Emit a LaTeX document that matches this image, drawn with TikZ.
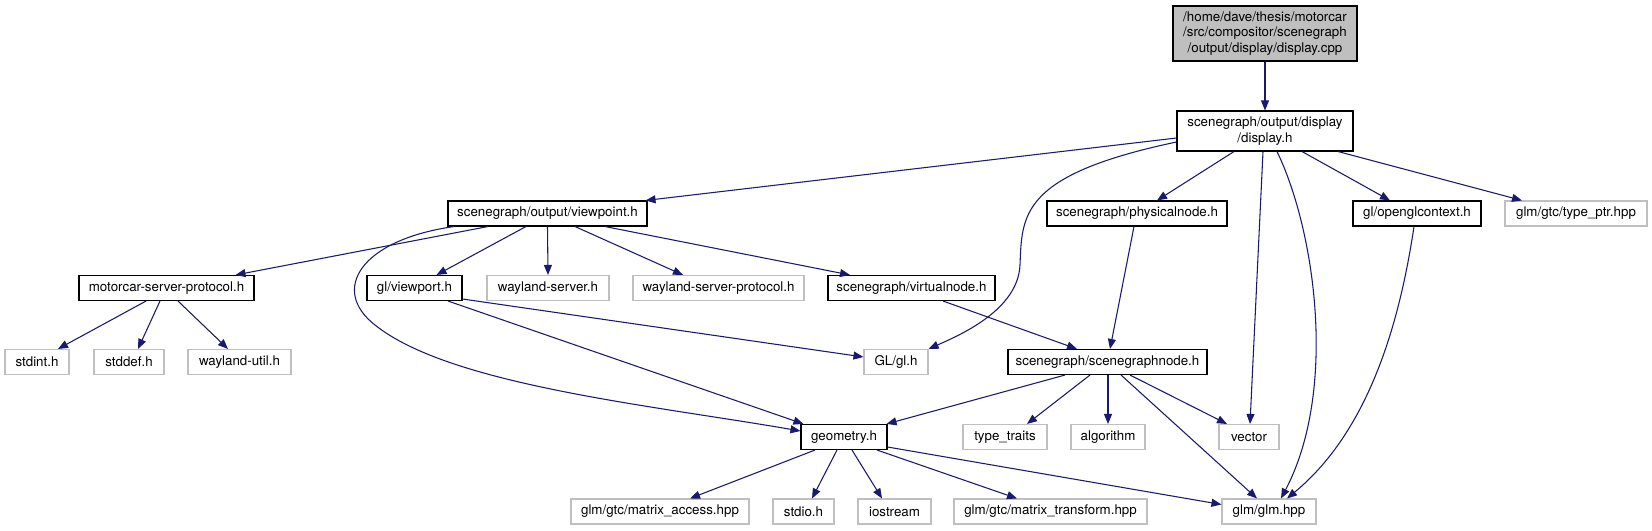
\documentclass[tikz,border=0pt]{standalone}
\usepackage{fontspec}
\setmainfont{TeX Gyre Heros}
\usetikzlibrary{arrows.meta,calc}
\definecolor{edgeblue}{HTML}{191970}
\definecolor{lightgrey}{HTML}{BFBFBF}
\begin{document}
\begin{tikzpicture}[x=0.75pt,y=-0.75pt,
  box/.style={draw=black,line width=0.8pt,fill=white,minimum height=18.75pt,inner sep=0pt,
    font=\fontsize{10}{11.5}\selectfont,anchor=center,align=center},
  ext/.style={box,draw=lightgrey},
  dep/.style={draw=edgeblue,line width=0.8pt,-{Triangle[length=7.5pt,width=6pt]}}]
\useasboundingbox (0,0) rectangle (1652,531);

% rank A/B
\node[box,fill=lightgrey,minimum width=138pt,minimum height=41.25pt] (cpp) at (1265,33.5)
  {/home/dave/thesis/motorcar\\/src/compositor/scenegraph\\/output/display/display.cpp};
\node[box,minimum width=132pt,minimum height=30pt] (disp) at (1265,131)
  {scenegraph/output/display\\/display.h};

% rank C
\node[box,minimum width=149.25pt] (viewpoint) at (547.5,213.5) {scenegraph/output/viewpoint.h};
\node[box,minimum width=135pt] (physnode) at (1137,213.5) {scenegraph/physicalnode.h};
\node[box,minimum width=96pt] (oglctx) at (1417,213.5) {gl/openglcontext.h};
\node[ext,minimum width=106.5pt] (typeptr) at (1576,213.5) {glm/gtc/type\_ptr.hpp};

% rank D
\node[box,minimum width=131.25pt] (msp) at (166.5,288) {motorcar-server-protocol.h};
\node[box,minimum width=71.25pt] (viewport) at (414.5,288) {gl/viewport.h};
\node[ext,minimum width=91.5pt] (wserver) at (548,288) {wayland-server.h};
\node[ext,minimum width=128.25pt] (wsproto) at (718.5,288) {wayland-server-protocol.h};
\node[box,minimum width=125.25pt] (virtnode) at (911.5,288) {scenegraph/virtualnode.h};

% rank E
\node[ext,minimum width=48pt] (stdint) at (37,362) {stdint.h};
\node[ext,minimum width=52.5pt] (stddef) at (129,362) {stddef.h};
\node[ext,minimum width=77.25pt] (wutil) at (239.5,362) {wayland-util.h};
\node[ext,minimum width=48pt] (glh) at (896,362) {GL/gl.h};
\node[box,minimum width=149.25pt] (sgnode) at (1107.5,362) {scenegraph/scenegraphnode.h};

% rank F
\node[box,minimum width=64.5pt] (geometry) at (844,437) {geometry.h};
\node[ext,minimum width=63pt] (typetraits) at (1005,437) {type\_traits};
\node[ext,minimum width=55.5pt] (algorithm) at (1108,437) {algorithm};
\node[ext,minimum width=45pt] (vector) at (1249,437) {vector};

% rank G
\node[ext,minimum width=133.5pt] (mataccess) at (660,511.5) {glm/gtc/matrix\_access.hpp};
\node[ext,minimum width=45.75pt] (stdio) at (803.5,511.5) {stdio.h};
\node[ext,minimum width=54.75pt] (iostream) at (894.5,511.5) {iostream};
\node[ext,minimum width=144.75pt] (mattransform) at (1050.5,511.5) {glm/gtc/matrix\_transform.hpp};
\node[ext,minimum width=70.5pt] (glm) at (1269,511.5) {glm/glm.hpp};

% edges from display.cpp / display.h
\draw[dep] (cpp.south) -- (disp.north);
\draw[dep] ($(disp.west)+(0,7)$) -- ($(viewpoint.north east)+(-2,0)$);
\draw[dep] ($(disp.west)+(0,11)$) .. controls (1020,175) and (1022,215) .. (1020,265)
  .. controls (1018,310) and (960,335) .. ($(glh.north east)+(0,0)$);
\draw[dep] ($(disp.south)+(-31,0)$) -- ($(physnode.north)+(20,0)$);
\draw[dep] ($(disp.south)+(-2,0)$) -- ($(vector.north)+(1,0)$);
\draw[dep] ($(disp.south)+(12,0)$) .. controls (1315,230) and (1338,390) .. ($(glm.north)+(12,0)$);
\draw[dep] ($(disp.south)+(37,0)$) -- ($(oglctx.north)+(-27,0)$);
\draw[dep] ($(disp.south)+(73,0)$) -- ($(typeptr.north)+(-54,0)$);

% edges from viewpoint.h
\draw[dep] ($(viewpoint.south)+(-59.5,0)$) -- ($(msp.north east)+(-19,0)$);
\draw[dep] ($(viewpoint.south)+(-93.5,0)$) .. controls (360,240) and (330,290) .. (375,325)
  .. controls (450,385) and (650,405) .. ($(geometry.west)+(0,-6)$);
\draw[dep] ($(viewpoint.south)+(-21.5,0)$) -- ($(viewport.north)+(22,0)$);
\draw[dep] (viewpoint.south) -- (wserver.north);
\draw[dep] ($(viewpoint.south)+(27.5,0)$) -- ($(wsproto.north)+(-35.5,0)$);
\draw[dep] ($(viewpoint.south)+(57.5,0)$) -- ($(virtnode.north)+(-61.5,0)$);

% edges from motorcar-server-protocol.h
\draw[dep] ($(msp.south)+(-20.5,0)$) -- ($(stdint.north)+(21,0)$);
\draw[dep] ($(msp.south)+(-6.5,0)$) -- ($(stddef.north)+(9,0)$);
\draw[dep] ($(msp.south)+(11.5,0)$) -- ($(wutil.north)+(-11.5,0)$);

% edges from gl/viewport.h
\draw[dep] ($(viewport.east)+(0,11)$) -- ($(glh.west)+(0,-5)$);
\draw[dep] ($(viewport.south)+(33.5,0)$) -- ($(geometry.north west)+(3,0)$);

% edges into scenegraphnode.h
\draw[dep] ($(virtnode.south)+(31.5,0)$) -- ($(sgnode.north)+(-30.5,0)$);
\draw[dep] ($(physnode.south)+(-3,0)$) -- ($(sgnode.north)+(2.5,0)$);

% edges from scenegraphnode.h
\draw[dep] ($(sgnode.south)+(-42.5,0)$) -- ($(geometry.north east)+(-1,0)$);
\draw[dep] ($(sgnode.south)+(-17.5,0)$) -- ($(typetraits.north)+(22,0)$);
\draw[dep] ($(sgnode.south)+(0.5,0)$) -- (algorithm.north);
\draw[dep] ($(sgnode.south)+(22.5,0)$) -- ($(vector.north)+(-22,0)$);
\draw[dep] ($(sgnode.south)+(13.5,0)$) -- ($(glm.north)+(-12,0)$);

% edge from gl/openglcontext.h
\draw[dep] ($(oglctx.south)+(-3,0)$) .. controls (1400,320) and (1370,430) .. ($(glm.north)+(18,0)$);

% edges from geometry.h
\draw[dep] ($(geometry.south)+(-29,0)$) -- ($(mataccess.north)+(30,0)$);
\draw[dep] ($(geometry.south)+(-7,0)$) -- ($(stdio.north)+(8.5,0)$);
\draw[dep] ($(geometry.south)+(8,0)$) -- ($(iostream.north)+(-12.5,0)$);
\draw[dep] ($(geometry.south)+(33,0)$) -- ($(mattransform.north)+(-33.5,0)$);
\draw[dep] ($(geometry.east)+(0,10)$) -- ($(glm.west)+(0,-7)$);
\end{tikzpicture}
\end{document}
